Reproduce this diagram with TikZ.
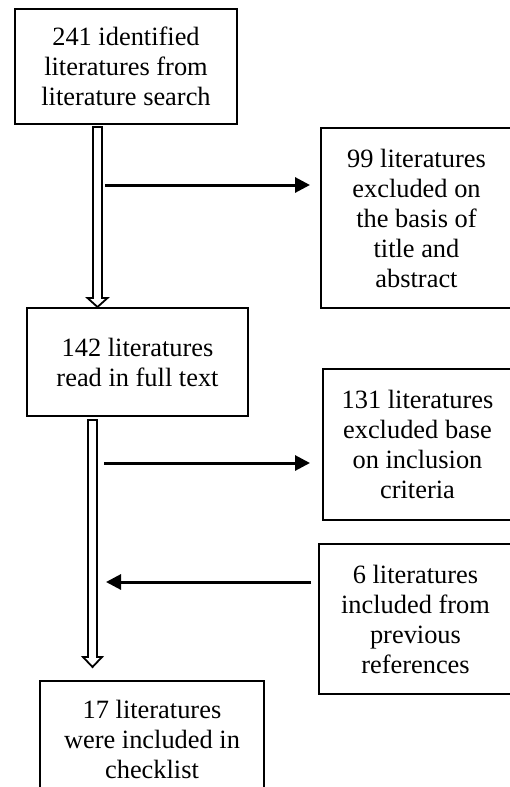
\documentclass[tikz,border=0pt]{standalone}
\usepackage{fontspec}
\setmainfont{Liberation Serif}
\usetikzlibrary{arrows.meta,calc}
\begin{document}
\begin{tikzpicture}[x=1pt,y=-1pt,
  box/.style={draw=black,line width=2.5pt,rectangle,inner sep=0pt,outer sep=0pt,
    align=center,font=\fontsize{26.4}{30}\selectfont},
  harr/.style={line width=3pt,-{Triangle[length=15pt,width=15pt]}},
  dbl/.style={line width=1.8pt,line join=miter}]
\clip (0,0) rectangle (510,787);
\fill[white] (0,0) rectangle (510,787);
% boxes
\node[box,minimum width=222pt,minimum height=115pt] (a) at (126,66.5)
  {241 identified\\literatures from\\literature search};
\node[box,minimum width=191pt,minimum height=180pt] (b) at (416.5,218)
  {99 literatures\\excluded on\\the basis of\\title and\\abstract};
\node[box,minimum width=221pt,minimum height=108pt] (c) at (137.5,362)
  {142 literatures\\read in full text};
\node[box,minimum width=189pt,minimum height=151pt] (d) at (417.5,444.5)
  {131 literatures\\excluded base\\on inclusion\\criteria};
\node[box,minimum width=193pt,minimum height=150pt] (e) at (415.5,619)
  {6 literatures\\included from\\previous\\references};
\node[box,minimum width=224pt,minimum height=116pt] (f) at (152,739)
  {17 literatures\\were included in\\checklist};
% hollow double arrows
\newcommand\hollowarrow[5]{%
  \draw[dbl] ($(#1)+(-#3,0)$) -- ($(#2)+(-#3,-#5)$) -- ($(#2)+(-#4,-#5)$) -- (#2)
    -- ($(#2)+(#4,-#5)$) -- ($(#2)+(#3,-#5)$) -- ($(#1)+(#3,0)$) -- cycle;}
\coordinate (d1s) at (97.5,127);
\coordinate (d1e) at (97.5,307);
\hollowarrow{d1s}{d1e}{4.5}{10}{9}
\coordinate (d2s) at (92.5,420);
\coordinate (d2e) at (92.5,667);
\hollowarrow{d2s}{d2e}{4.5}{9.5}{10}
% side arrows
\coordinate (h1s) at (105,185);
\draw[harr] (h1s) -- ([xshift=-11pt]b.west |- h1s);
\coordinate (h2s) at (104,463);
\draw[harr] (h2s) -- ([xshift=-13pt]d.west |- h2s);
\coordinate (h3e) at (106,582);
\draw[harr] ([xshift=-8pt]e.west |- h3e) -- (h3e);
\end{tikzpicture}
\end{document}
